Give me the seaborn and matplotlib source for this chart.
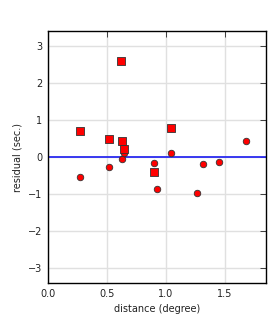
import matplotlib
matplotlib.use("Agg")
import matplotlib.pyplot as plt
import seaborn as sns
import pandas as pd

sq_x = [0.27, 0.62, 0.52, 0.63, 0.64, 1.045, 0.90]
sq_y = [0.69, 2.60, 0.48, 0.42, 0.21, 0.78, -0.41]
ci_x = [0.27, 0.52, 0.63, 0.64, 0.90, 0.926, 1.045, 1.265, 1.316, 1.45, 1.68]
ci_y = [-0.55, -0.28, -0.05, 0.12, -0.17, -0.87, 0.10, -0.98, -0.20, -0.14, 0.42]

sns.set_style("white")
plt.rcParams['font.family'] = ['DejaVu Sans']

fig = plt.figure(figsize=(2.7, 3.15), dpi=100)
ax = fig.add_axes([48/270, 1-283/315, (266-48)/270, (283-31)/315])

df_c = pd.DataFrame({"x": ci_x, "y": ci_y})
df_s = pd.DataFrame({"x": sq_x, "y": sq_y})
ax.axhline(0, color="#2a2af0", lw=1.3, zorder=2)
sns.scatterplot(data=df_c, x="x", y="y", marker="o", s=22, color="#ff0000",
                edgecolor="#333333", linewidth=0.6, ax=ax, zorder=3)
sns.scatterplot(data=df_s, x="x", y="y", marker="s", s=30, color="#ff0000",
                edgecolor="#333333", linewidth=0.6, ax=ax, zorder=4)

ax.set_xlim(0, 1.847)
ax.set_ylim(-3.4, 3.4)
ax.set_xticks([0.0, 0.5, 1.0, 1.5])
ax.set_xticklabels(["0.0", "0.5", "1.0", "1.5"])
ax.set_yticks([-3, -2, -1, 0, 1, 2, 3])
ax.set_yticklabels(["\u22123", "\u22122", "\u22121", "0", "1", "2", "3"])
ax.grid(True, color="#e0e0e0", lw=1.0)
ax.set_axisbelow(True)
ax.tick_params(direction="in", length=4, width=0.6, labelsize=7, colors="#222222",
               top=True, right=True, pad=4)
for s in ax.spines.values():
    s.set_linewidth(1.0)
    s.set_color("black")
ax.set_xlabel("distance (degree)", fontsize=7, color="#222222")
ax.set_ylabel("residual (sec.)", fontsize=7, color="#222222")
fig.savefig("out.png", dpi=100)
